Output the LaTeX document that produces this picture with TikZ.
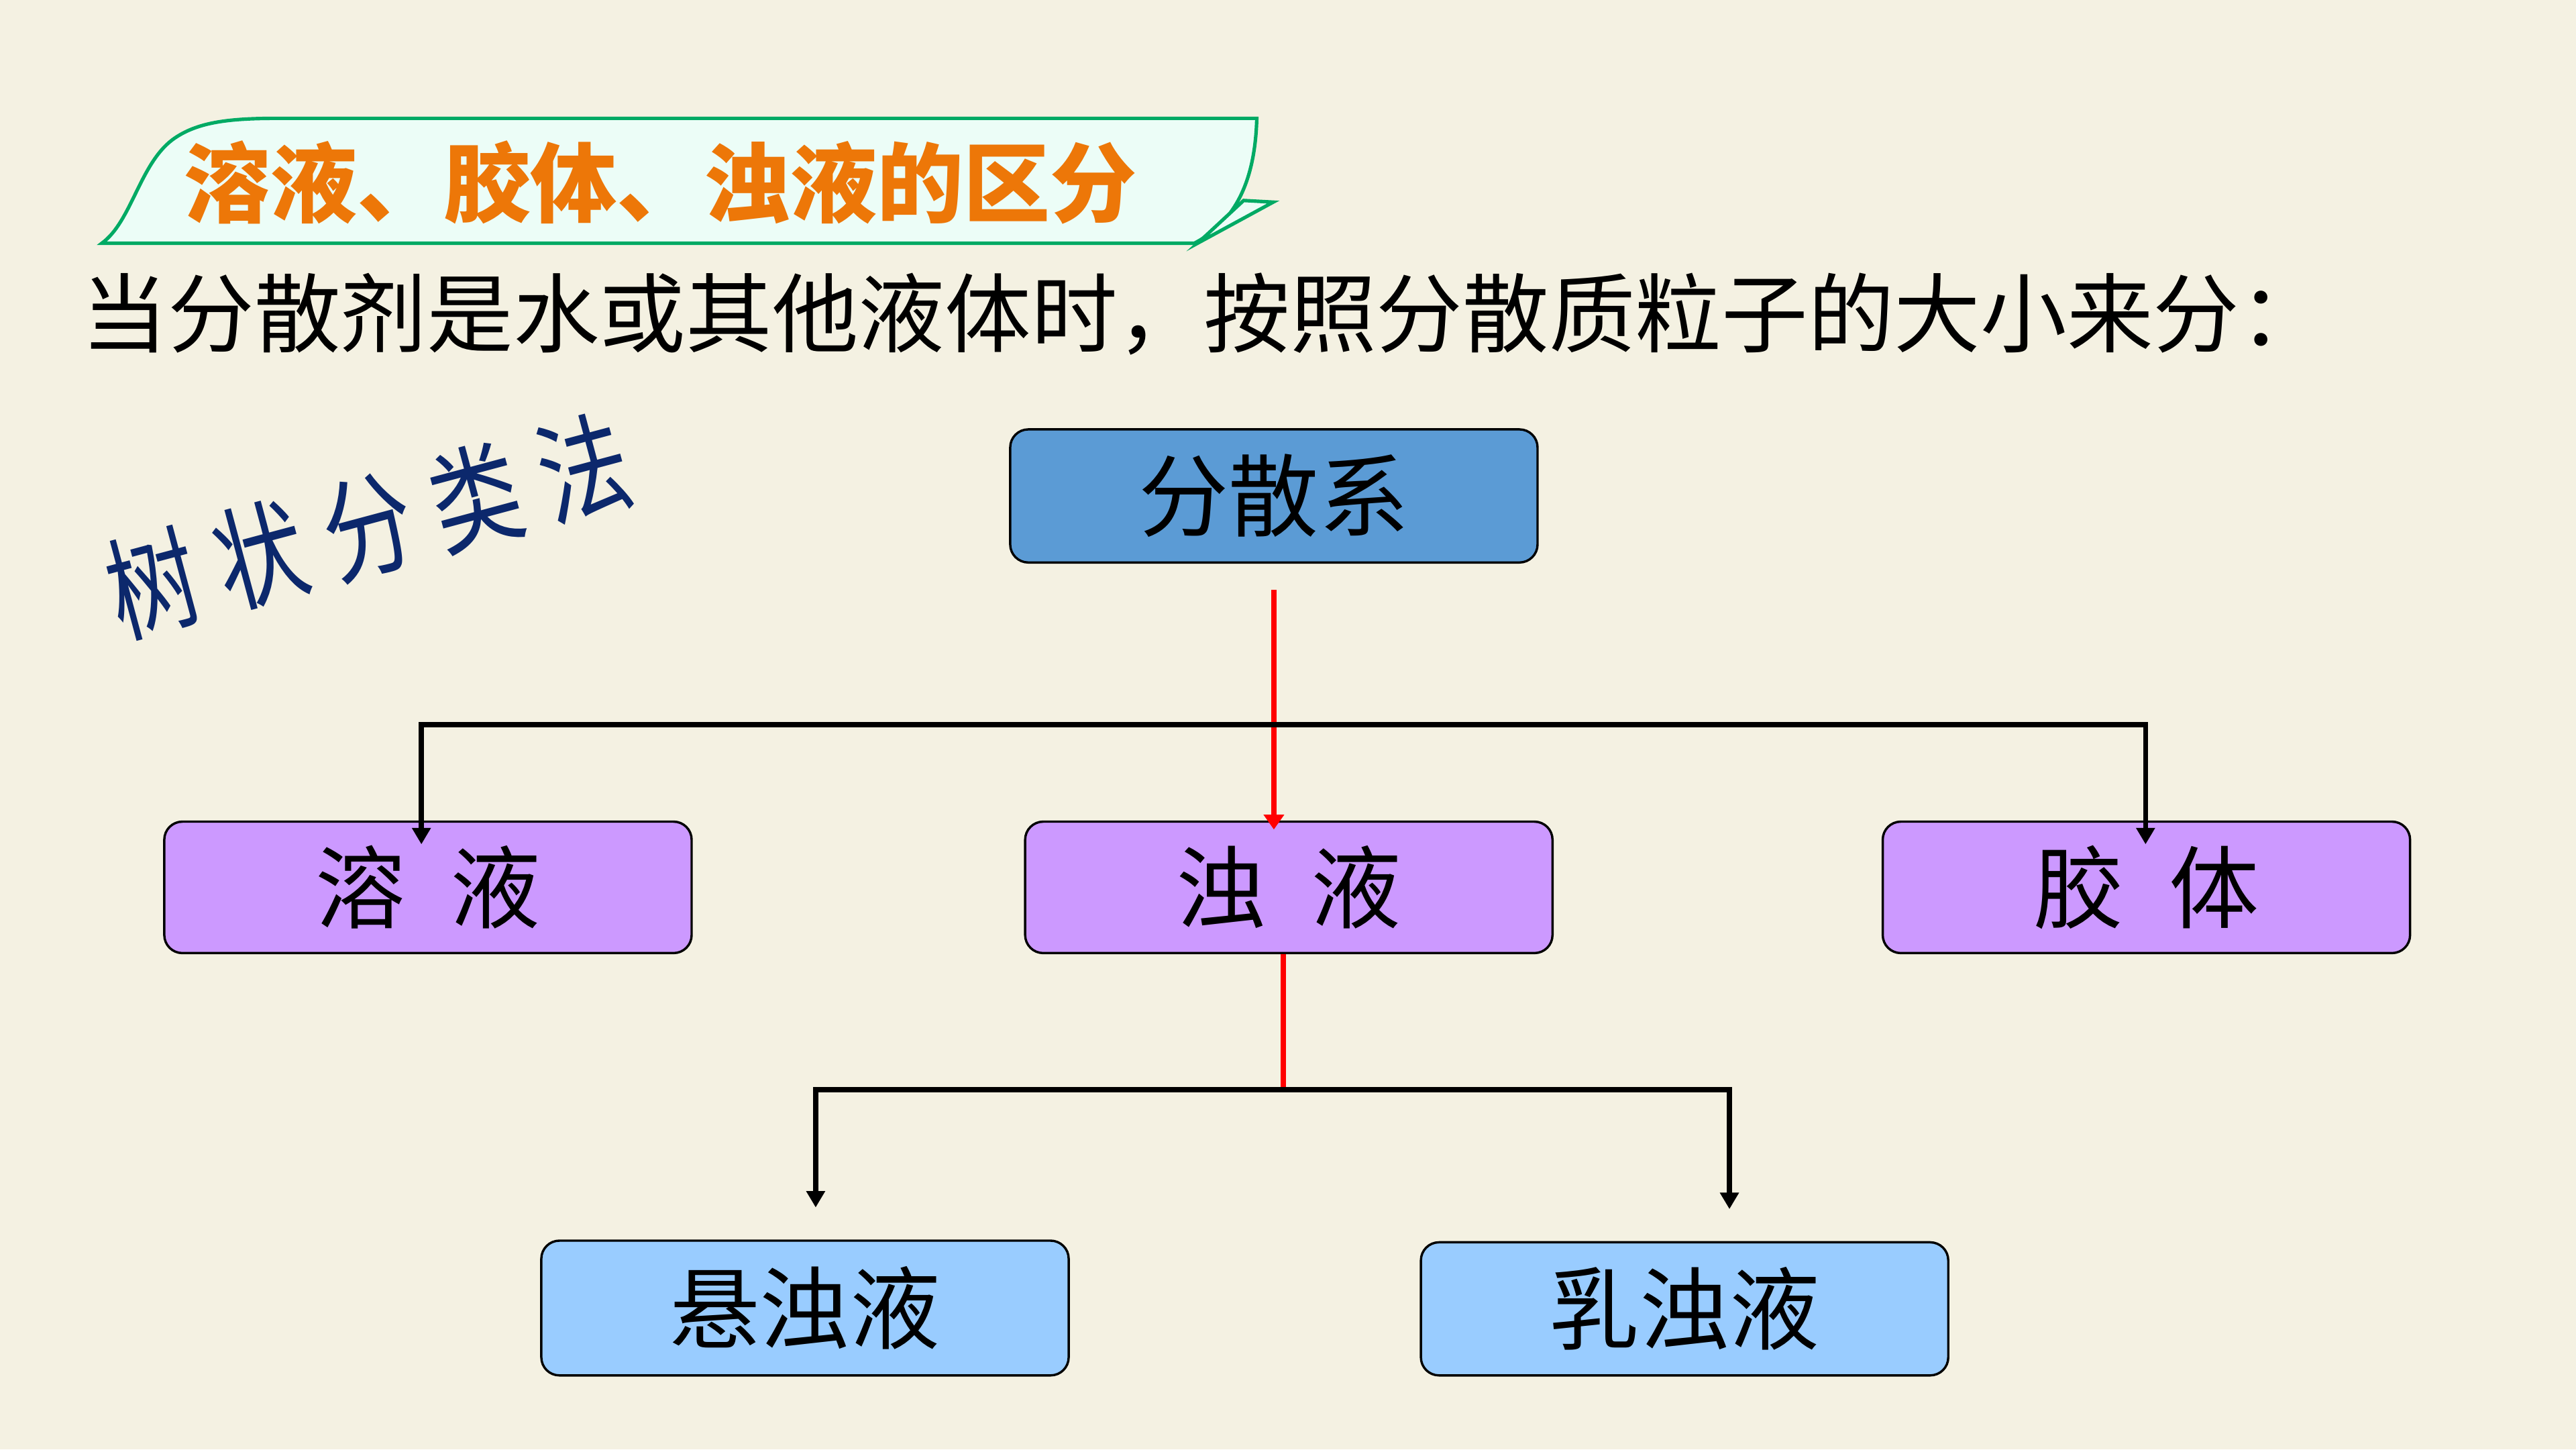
\documentclass[tikz,border=0pt]{standalone}
\usepackage{fontspec}
\setmainfont{Noto Sans CJK SC}
\usetikzlibrary{arrows.meta,positioning}

\definecolor{paper}{RGB}{244,241,226}
\definecolor{rootblue}{RGB}{91,155,213}
\definecolor{lilac}{RGB}{204,153,255}
\definecolor{skyblue}{RGB}{153,204,255}
\definecolor{bannergreen}{RGB}{0,170,100}
\definecolor{bannerfill}{RGB}{236,253,247}
\definecolor{titleorange}{RGB}{237,119,8}
\definecolor{navy}{RGB}{12,40,108}
\newcommand{\boxfont}{\fontsize{15.6pt}{18pt}\selectfont}

\begin{document}
\begin{tikzpicture}[x=0.1mm, y=-0.1mm,
    every node/.style={inner sep=0pt},
    classbox/.style={draw=black, line width=0.4pt, rounded corners=1.1mm,
      minimum width=32.1mm, minimum height=8mm, font=\boxfont},
    branch/.style={line width=0.9pt, -{Triangle[length=1mm,width=1.1mm]}},
    redline/.style={red, line width=0.9pt}]

  % background
  \fill[paper] (0,0) rectangle (1568,882);
  \useasboundingbox (0,0) rectangle (1568,882);

  % banner
  \draw[bannergreen, fill=bannerfill, line width=0.6pt]
    (62,148) .. controls (80,135) and (85,100) .. (105,85)
    .. controls (120,74) and (140,72) .. (170,72) -- (765,72)
    .. controls (764,110) and (752,135) .. (727,148) -- cycle;
  \draw[bannergreen, fill=bannerfill, line width=0.6pt]
    (757,122) -- (775,123) -- (729,148) -- cycle;
  \node[font=\fontsize{15pt}{18pt}\selectfont\bfseries, text=titleorange]
    (heading) at (402,111) {溶液、胶体、浊液的区分};

  % lead line
  \node[anchor=west, font=\fontsize{14.95pt}{17pt}\selectfont]
    (lead) at (49,191) {当分散剂是水或其他液体时，按照分散质粒子的大小来分：};

  % method
  \node[rotate=15, text=navy,
    font=\fontsize{19.5pt}{22pt}\selectfont\addfontfeatures{FakeStretch=0.8,LetterSpace=19}]
    (method) at (224,320) {树状分类法};

  % boxes
  \node[classbox, fill=rootblue, minimum height=8.1mm] (root) at (775.4,301.8) {分散系};
  \node[classbox, fill=lilac] (solution) at (260.5,540) {溶\enspace 液};
  \node[classbox, fill=lilac] (turbid) at (784.5,540) {浊\enspace 液};
  \node[classbox, fill=lilac] (colloid) at (1306.5,540) {胶\enspace 体};
  \node[classbox, fill=skyblue, minimum height=8.2mm] (suspension) at (490,796) {悬浊液};
  \node[classbox, fill=skyblue, minimum height=8.1mm] (emulsion) at (1025.4,796.5) {乳浊液};

  % first level
  \coordinate (bar1) at (775.4,441);
  \draw[redline, -{Triangle[length=0.9mm,width=1.2mm]}]
    ([yshift=-1.6mm]root.south) -- ([yshift=-0.55mm]root.south |- turbid.north);
  \draw[branch] (bar1) -| ([xshift=-0.4mm,yshift=-1.45mm]solution.north);
  \draw[branch] (bar1) -| ([xshift=-0.05mm,yshift=-1.45mm]colloid.north);

  % second level
  \coordinate (bar2) at (781,663);
  \draw[redline] ([xshift=-0.35mm]turbid.south) -- (bar2);
  \draw[branch] (bar2) -| ([xshift=0.65mm,yshift=1.95mm]suspension.north);
  \draw[branch] (bar2) -| ([xshift=2.73mm,yshift=1.95mm]emulsion.north);
\end{tikzpicture}
\end{document}
